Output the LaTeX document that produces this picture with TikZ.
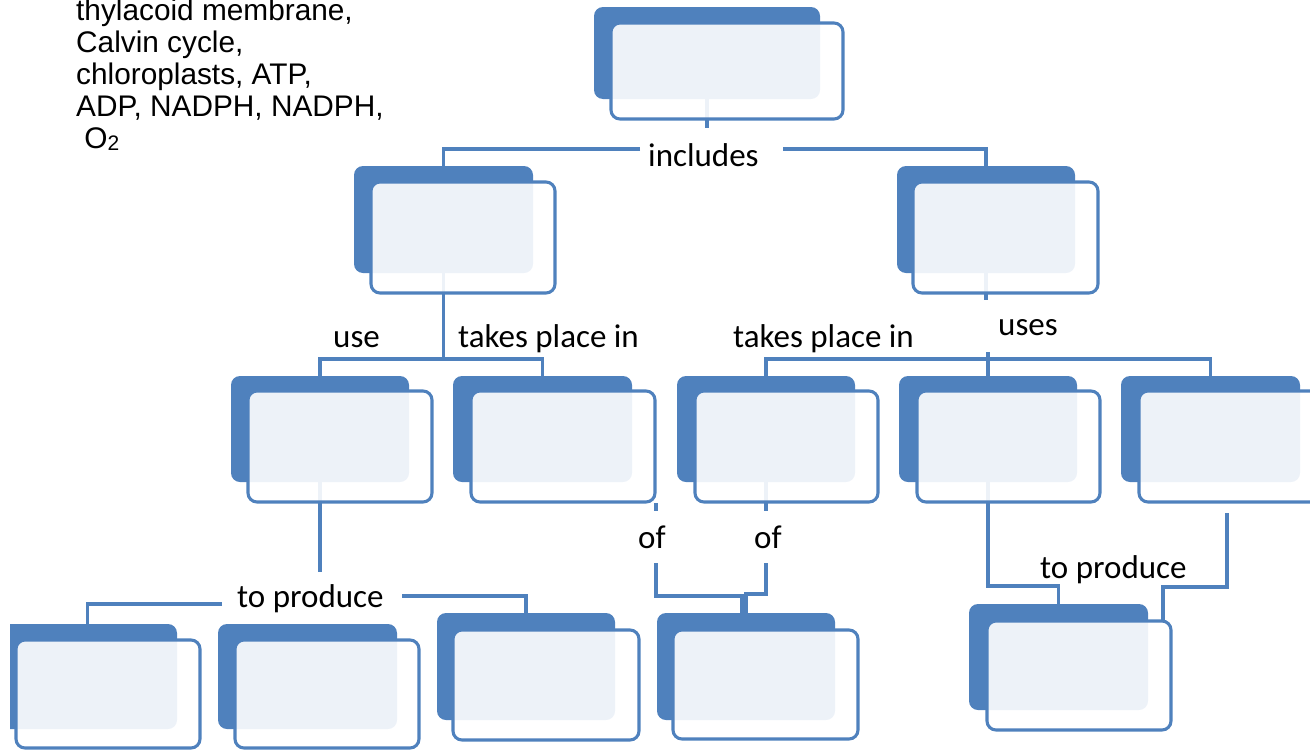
\documentclass[tikz,border=0pt]{standalone}
\usepackage{fontspec}
\setmainfont{Carlito}
\newfontfamily\arialfont{Liberation Sans}
\definecolor{cblue}{HTML}{4F81BD}
\pgfdeclarelayer{bg}
\pgfsetlayers{bg,main}
\newcommand\conceptpair[9]{%
  \node[backbox, minimum width={(#4-#2)*1pt}, minimum height={(#5-#3)*1pt}] (#1b) at ({(#2+#4)/2},{(#3+#5)/2}) {};
  \node[frontbox, minimum width={(#8-#6)*1pt}, minimum height={(#9-#7)*1pt}] (#1) at ({(#6+#8)/2},{(#7+#9)/2}) {};
}
\begin{document}
\begin{tikzpicture}[x=1pt,y=-1pt,
  backbox/.style={rectangle, rounded corners=9pt, fill=cblue, draw=none, inner sep=0pt},
  frontbox/.style={rectangle, rounded corners=9pt, draw=cblue, line width=3.1pt, fill=white, fill opacity=0.9, inner sep=0pt},
  conn/.style={draw=cblue, line width=3.2pt},
  lbl/.style={font=\fontsize{33}{38}\selectfont, inner sep=0pt, anchor=base west},
  wordlist/.style={font=\arialfont\fontsize{29.8}{32}\selectfont, inner sep=0pt, anchor=base west}]
\clip (0,0) rectangle (1310,750);

% word list
\node[wordlist] (w1) at (76,20) {thylacoid membrane,};
\node[wordlist] (w2) at (76,52.5) {Calvin cycle,};
\node[wordlist] (w3) at (76,84) {chloroplasts, ATP,};
\node[wordlist] (w4) at (76,116) {ADP, NADPH, NADPH,};
\node[wordlist] (w5) at (76,148) {\ O{\fontsize{21}{21}\selectfont\raisebox{-2pt}{2}}};

% boxes
\conceptpair{T}{594}{7}{820}{99}{611}{23}{843}{119}
\conceptpair{L2L}{354}{166}{533}{273}{371}{182}{555}{293}
\conceptpair{L2R}{897}{166}{1075}{273}{913}{182}{1098}{293}
\conceptpair{L3a}{231}{376}{409}{482}{248}{391}{432}{502}
\conceptpair{L3b}{453}{376}{632}{482}{471}{391}{655}{502}
\conceptpair{L3c}{677}{376}{855}{482}{695}{391}{878}{502}
\conceptpair{L3d}{899}{376}{1077}{482}{917}{391}{1100}{502}
\conceptpair{L3e}{1121}{376}{1300}{482}{1139}{391}{1323}{502}
\begin{scope}
\clip (10,600) rectangle (214,752);
\conceptpair{Ba}{-2}{624}{177}{729}{16}{640}{200}{748}
\end{scope}
\conceptpair{Bb}{218}{624}{397}{729}{235}{640}{419}{748}
\conceptpair{Bc}{437}{613}{615}{720}{453}{630}{639}{740}
\conceptpair{Bd}{657}{613}{835}{720}{673}{630}{858}{739}
\conceptpair{Be}{969}{604}{1148}{710}{987}{621}{1171}{730}

% labels
\node[lbl] (inc) at (648,166) {includes};
\node[lbl] (use) at (333,347) {use};
\node[lbl] (tpl) at (458,347) {takes place in};
\node[lbl] (tpr) at (733,347) {takes place in};
\node[lbl] (uses) at (998,335) {uses};
\node[lbl] (ofl) at (638,548) {of};
\node[lbl] (ofr) at (754,548) {of};
\node[lbl] (tprl) at (237,607) {to produce};
\node[lbl] (tprr) at (1040,578) {to produce};

% connectors
\coordinate (incL) at (640,149);
\coordinate (incR) at (783,149);
\coordinate (ofLs) at (656,503);
\coordinate (ofLt) at (656,563);
\coordinate (eStub) at (1227,513);
\begin{pgfonlayer}{bg}
\draw[conn] (Tb.center) -- (Tb.center |- 0,128);
\draw[conn] (incL) -| (L2Lb.north);
\draw[conn] (incR) -| (L2Rb.north);

\draw[conn] (L2Lb.center) -- (L2Lb.center |- 0,359);
\draw[conn] (L3ab.north) -- (L3ab.north |- 0,359) -- (L3bb.north |- 0,359) -- (L3bb.north);

\draw[conn] (L2Rb.center) -- (L2Rb.center |- 0,300);
\draw[conn] (L3cb.north) -- (L3cb.north |- 0,359) -- (L3eb.north |- 0,359) -- (L3eb.north);
\draw[conn] (L3db.north) -- (L3db.north |- 0,352);

\draw[conn] (L3ab.center) -- (L3ab.center |- 0,572);
\draw[conn] (222,604) -| (Bab.north);
\draw[conn] (402,596) -| (Bcb.north);

\draw[conn] (ofLs) -- (ofLs |- 0,511);
\draw[conn] (ofLt) |- (742,596) -- (742,613);
\draw[conn] (L3cb.center) -- (L3cb.center |- 0,511);
\draw[conn] (L3cb.center |- 0,563) |- (Bdb.north |- 0,594) -- (Bdb.north);

\draw[conn] (L3db.center) -- (L3db.center |- 0,586) -- (Beb.north |- 0,586) -- (Beb.north);
\draw[conn] (eStub) -- (eStub |- 0,587) -- (1163,587) -- (1163,621);
\end{pgfonlayer}
\end{tikzpicture}
\end{document}
